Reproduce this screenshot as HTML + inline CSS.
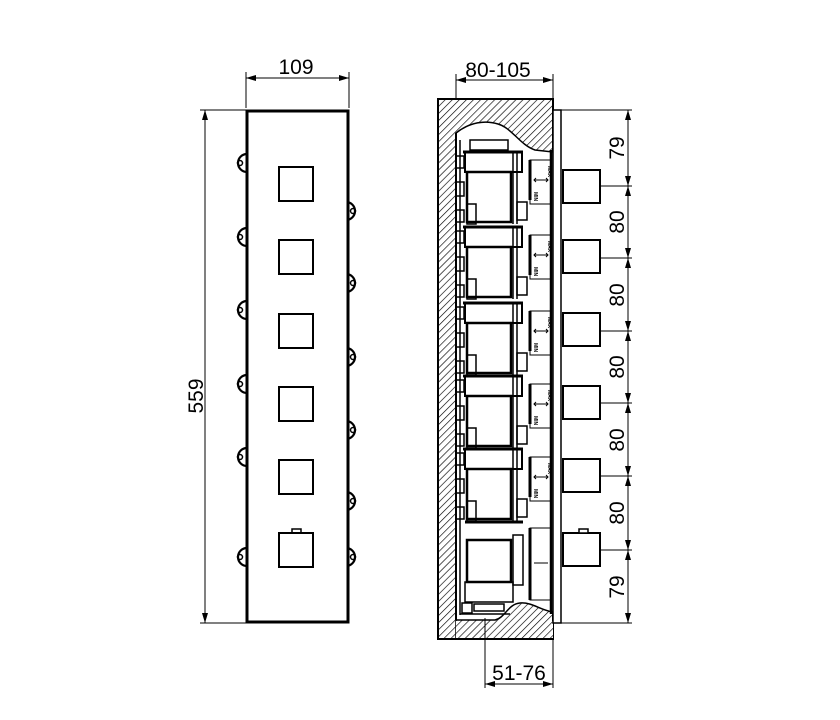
<!DOCTYPE html>
<html><head><meta charset="utf-8"><style>
html,body{margin:0;padding:0;background:#fff;}
svg{display:block;font-family:"Liberation Sans",sans-serif;}
</style></head><body>
<svg width="840" height="720" viewBox="0 0 840 720" xmlns="http://www.w3.org/2000/svg">
<defs>
<pattern id="h" patternUnits="userSpaceOnUse" width="5" height="5" patternTransform="rotate(45)">
<rect width="5" height="5" fill="#fff"/><line x1="0" y1="0" x2="0" y2="5" stroke="#000" stroke-width="1.3"/>
</pattern>
<marker id="a" viewBox="0 0 10 6" refX="10" refY="3" markerWidth="10" markerHeight="6" orient="auto-start-reverse" markerUnits="userSpaceOnUse">
<path d="M0,0 L10,3 L0,6 z" fill="#000"/></marker>
<g id="lugL"><path d="M7,-9 A9,9 0 1 0 7,9" fill="#fff" stroke="#000" stroke-width="2.2"/><circle cx="0" cy="0" r="2.5" fill="none" stroke="#000" stroke-width="1.5"/></g>
<g id="lugR"><path d="M-7,-9 A9,9 0 1 1 -7,9" fill="#fff" stroke="#000" stroke-width="2.2"/><circle cx="0" cy="0" r="2.5" fill="none" stroke="#000" stroke-width="1.5"/></g>
<g id="mod" fill="none" stroke="#000">
<line x1="463" y1="0" x2="523" y2="0" stroke-width="3"/>
<rect x="465" y="0" width="57" height="20" stroke-width="2"/>
<rect x="467" y="20" width="44" height="50" stroke-width="2.5"/>
<rect x="467" y="52" width="9" height="20" stroke-width="1.5"/>
<line x1="513" y1="0" x2="513" y2="72" stroke-width="1.5"/>
<line x1="517" y1="0" x2="517" y2="72" stroke-width="1.5"/>
<rect x="517" y="50" width="10" height="18" stroke-width="1.5"/>
<line x1="530" y1="8" x2="530" y2="48" stroke-width="3"/>
<rect x="530" y="8" width="21" height="44" stroke-width="1"/>
<line x1="534" y1="28" x2="548" y2="28" stroke-width="1"/>
<path d="M536,26 L534,28 L536,30 M546,26 L548,28 L546,30" stroke-width="1"/>
<text x="0" y="0" font-size="5" fill="#000" stroke="none" transform="translate(548,14) rotate(90)" font-weight="bold">MAX</text>
<text x="0" y="0" font-size="5" fill="#000" stroke="none" transform="translate(534,40) rotate(90)" font-weight="bold">MIN</text>
<rect x="456" y="4" width="8" height="12" stroke-width="1.5"/>
<rect x="456" y="30" width="8" height="14" stroke-width="1.5"/>
<rect x="456" y="58" width="8" height="12" stroke-width="1.5"/>
</g>
</defs>

<!-- LEFT VIEW -->
<g fill="none" stroke="#000">
<line x1="246" y1="108" x2="246" y2="72" stroke-width="1"/>
<line x1="349" y1="108" x2="349" y2="72" stroke-width="1"/>
<line x1="246" y1="78" x2="349" y2="78" stroke-width="1" marker-start="url(#a)" marker-end="url(#a)"/>
<line x1="200" y1="110" x2="246" y2="110" stroke-width="1"/>
<line x1="200" y1="623" x2="246" y2="623" stroke-width="1"/>
<line x1="205" y1="110" x2="205" y2="623" stroke-width="1" marker-start="url(#a)" marker-end="url(#a)"/>
</g>
<use href="#lugL" x="240" y="163"/><use href="#lugL" x="240" y="237"/><use href="#lugL" x="240" y="310"/>
<use href="#lugL" x="240" y="384"/><use href="#lugL" x="240" y="457"/><use href="#lugL" x="240" y="557"/>
<use href="#lugR" x="353" y="211"/><use href="#lugR" x="353" y="283"/><use href="#lugR" x="353" y="357"/>
<use href="#lugR" x="353" y="430"/><use href="#lugR" x="353" y="501"/><use href="#lugR" x="353" y="557"/>
<rect x="247" y="111" width="101" height="511" fill="#fff" stroke="#000" stroke-width="3"/>
<g fill="none" stroke="#000" stroke-width="2">
<rect x="279" y="167" width="34" height="34"/>
<rect x="279" y="240" width="34" height="34"/>
<rect x="279" y="314" width="34" height="34"/>
<rect x="279" y="387" width="34" height="34"/>
<rect x="279" y="460" width="34" height="34"/>
<rect x="279" y="533" width="34" height="34"/>
<rect x="292" y="529" width="9" height="4" stroke-width="1.5"/>
</g>
<text x="296" y="74" font-size="21" text-anchor="middle">109</text>
<text x="0" y="0" font-size="21" text-anchor="middle" transform="translate(203,396) rotate(-90)">559</text>

<!-- RIGHT VIEW -->
<rect x="438" y="99" width="115" height="540" fill="url(#h)" stroke="#000" stroke-width="2"/>
<path d="M456,638 L456,133 C470,122 485,120 498,124 C512,128 520,145 535,150 L553,152 L553,612 C540,610 532,602 520,603 C508,604 505,618 495,620 L456,620" fill="#fff" stroke="#000" stroke-width="1.5"/>
<rect x="456" y="621" width="97" height="17" fill="url(#h)" stroke="none"/>
<line x1="456" y1="133" x2="456" y2="620" stroke="#000" stroke-width="2"/>
<line x1="460" y1="140" x2="460" y2="615" stroke="#000" stroke-width="1.5"/>
<line x1="551" y1="150" x2="551" y2="614" stroke="#000" stroke-width="2.5"/>
<use href="#mod" y="152"/><use href="#mod" y="227"/><use href="#mod" y="303"/>
<use href="#mod" y="376"/><use href="#mod" y="449"/>
<g fill="none" stroke="#000">
<rect x="470" y="140" width="38" height="10" stroke-width="1.5"/>
<line x1="465" y1="522" x2="523" y2="522" stroke-width="3"/>
<rect x="467" y="540" width="44" height="42" stroke-width="2.5"/>
<rect x="465" y="582" width="48" height="20" stroke-width="1.5"/>
<rect x="513" y="535" width="10" height="50" stroke-width="1.5"/>
<line x1="530" y1="528" x2="530" y2="600" stroke-width="3"/>
<rect x="530" y="528" width="21" height="72" stroke-width="1"/>
<line x1="534" y1="563" x2="548" y2="563" stroke-width="1"/>
<rect x="474" y="604" width="30" height="7" stroke-width="1.5"/>
<rect x="462" y="603" width="10" height="10" stroke-width="1.5"/>
<line x1="460" y1="614" x2="510" y2="614" stroke-width="1.5"/>
</g>
<!-- plate -->
<rect x="553" y="110" width="8" height="513" fill="#fff" stroke="#000" stroke-width="1.5"/>
<g fill="#fff" stroke="#000" stroke-width="2">
<rect x="563" y="170" width="37" height="33"/>
<rect x="563" y="240" width="37" height="33"/>
<rect x="563" y="313" width="37" height="33"/>
<rect x="563" y="386" width="37" height="33"/>
<rect x="563" y="459" width="37" height="33"/>
<rect x="563" y="533" width="37" height="33"/>
<rect x="579" y="529" width="9" height="4" stroke-width="1.5"/>
</g>
<g fill="none" stroke="#000" stroke-width="1">
<line x1="456" y1="98" x2="456" y2="74"/>
<line x1="553" y1="98" x2="553" y2="74"/>
<line x1="456" y1="80" x2="553" y2="80" marker-start="url(#a)" marker-end="url(#a)"/>
<line x1="485" y1="618" x2="485" y2="688"/>
<line x1="553" y1="640" x2="553" y2="688"/>
<line x1="485" y1="684" x2="553" y2="684" marker-start="url(#a)" marker-end="url(#a)"/>
<line x1="561" y1="110" x2="632" y2="110"/>
<line x1="561" y1="623" x2="632" y2="623"/>
<line x1="600" y1="186" x2="632" y2="186"/>
<line x1="600" y1="258" x2="632" y2="258"/>
<line x1="600" y1="331" x2="632" y2="331"/>
<line x1="600" y1="403" x2="632" y2="403"/>
<line x1="600" y1="476" x2="632" y2="476"/>
<line x1="600" y1="550" x2="632" y2="550"/>
<line x1="628" y1="110" x2="628" y2="186" marker-start="url(#a)" marker-end="url(#a)"/>
<line x1="628" y1="186" x2="628" y2="258" marker-start="url(#a)" marker-end="url(#a)"/>
<line x1="628" y1="258" x2="628" y2="331" marker-start="url(#a)" marker-end="url(#a)"/>
<line x1="628" y1="331" x2="628" y2="403" marker-start="url(#a)" marker-end="url(#a)"/>
<line x1="628" y1="403" x2="628" y2="476" marker-start="url(#a)" marker-end="url(#a)"/>
<line x1="628" y1="476" x2="628" y2="550" marker-start="url(#a)" marker-end="url(#a)"/>
<line x1="628" y1="550" x2="628" y2="623" marker-start="url(#a)" marker-end="url(#a)"/>
</g>
<text x="498" y="77" font-size="21" text-anchor="middle">80-105</text>
<text x="519" y="680" font-size="21" text-anchor="middle">51-76</text>
<g font-size="21" text-anchor="middle">
<text transform="translate(624,148) rotate(-90)">79</text>
<text transform="translate(624,222) rotate(-90)">80</text>
<text transform="translate(624,295) rotate(-90)">80</text>
<text transform="translate(624,367) rotate(-90)">80</text>
<text transform="translate(624,440) rotate(-90)">80</text>
<text transform="translate(624,513) rotate(-90)">80</text>
<text transform="translate(624,587) rotate(-90)">79</text>
</g>
</svg>
</body></html>
